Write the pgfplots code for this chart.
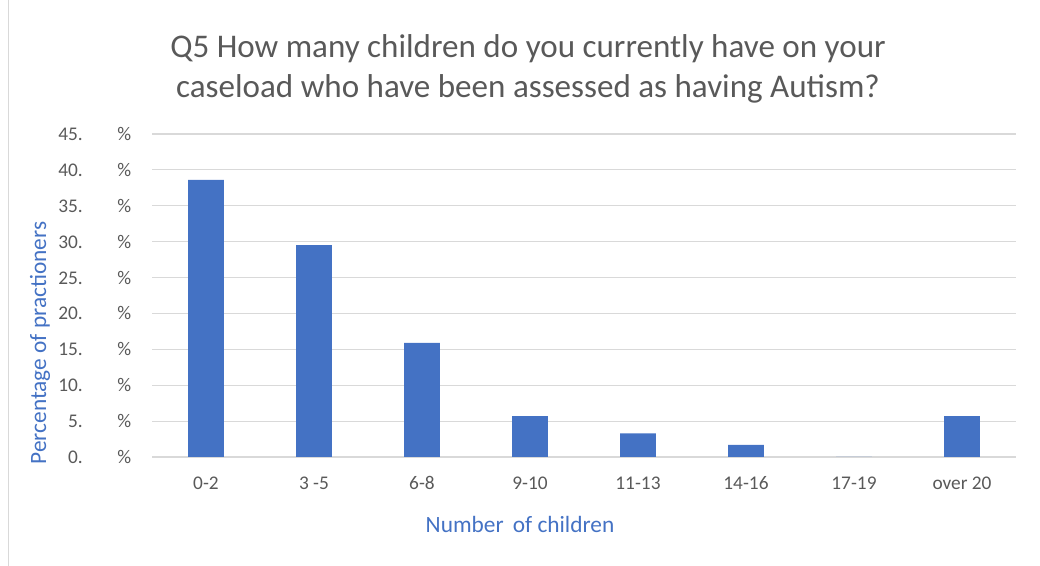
\documentclass[border=0pt]{standalone}
\usepackage{pgfplots}
\pgfplotsset{compat=1.18}
\usepackage{fontspec}
\setmainfont{Carlito}
\definecolor{barblue}{RGB}{68,114,196}
\definecolor{txtgray}{RGB}{89,89,89}
\definecolor{gridgray}{RGB}{217,217,217}
\definecolor{lblblue}{RGB}{68,114,196}
\begin{document}
\begin{tikzpicture}[x=0.75pt,y=0.75pt]
\useasboundingbox (0,0) rectangle (1040,566);
\draw[gridgray, line width=0.75pt] (8,0) -- (8,566);
\begin{axis}[
  at={(152*0.75pt,109*0.75pt)}, anchor=south west,
  scale only axis, width=864*0.75pt, height=323*0.75pt,
  ybar, bar width=0.33,
  xmin=-0.5, xmax=7.5, ymin=0, ymax=45,
  xtick=data,
  xticklabels={0-2,3 -5,6-8,9-10,11-13,14-16,17-19,over 20},
  ytick={0,5,...,45},
  yticklabel={\makebox[22pt][r]{\pgfmathprintnumber{\tick}.}\hspace{26pt}\%},
  /pgf/number format/assume math mode=true,
  ymajorgrids, grid style={gridgray, line width=0.9pt},
  axis line style={draw=none},
  axis x line*=bottom,
  x axis line style={gridgray, line width=0.9pt},
  tick style={draw=none},
  ticklabel style={font=\fontsize{14.5}{16}\selectfont, text=txtgray},
  xticklabel style={yshift=-6pt, text height=10.5pt, text depth=3pt},
  yticklabel style={xshift=-12pt},
]
\addplot[fill=barblue, draw=none] coordinates {
 (0,38.6) (1,29.5) (2,15.9) (3,5.7) (4,3.3) (5,1.7) (6,0) (7,5.7)};
\end{axis}
\node[text=txtgray, font=\fontsize{24.8}{30}\selectfont, align=center] at (528,497) {Q5 How many children do you currently have on your\\caseload who have been assessed as having Autism?};
\node[text=lblblue, font=\fontsize{17.5}{20}\selectfont] at (520,42) {Number\, of children};
\node[text=lblblue, font=\fontsize{17.5}{20}\selectfont, rotate=90] at (40,223) {Percentage of practioners};
\end{tikzpicture}
\end{document}
